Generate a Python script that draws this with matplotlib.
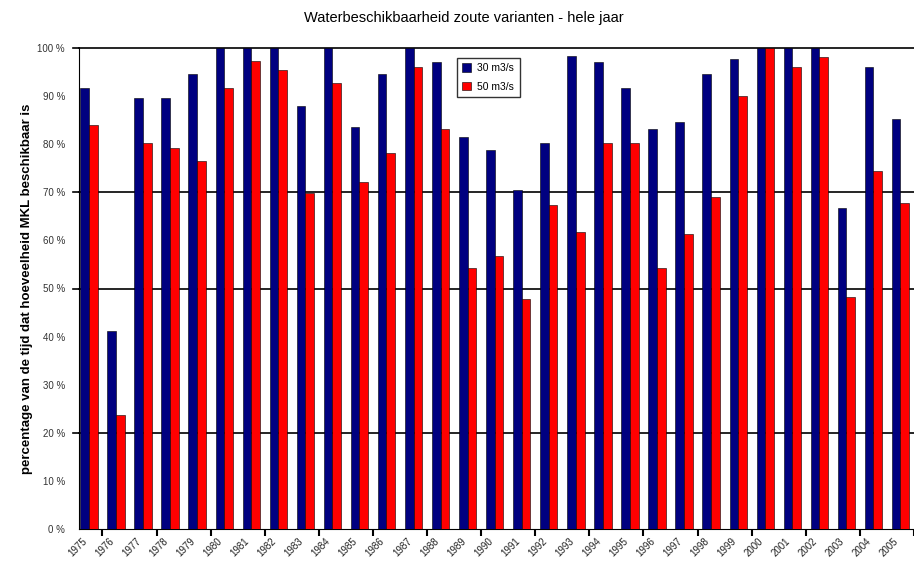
import matplotlib.pyplot as plt
import numpy as np

plt.rcParams['font.family'] = ['Liberation Sans', 'DejaVu Sans']

# Data
years = [str(y) for y in range(1975, 2006)]
blauw = [91.7, 41.2, 89.6, 89.6, 94.6, 100, 100, 100, 87.9, 100,
         83.6, 94.6, 100, 97.1, 81.5, 78.8, 70.5, 80.2, 98.3, 97.1,
         91.7, 83.2, 84.6, 94.6, 97.7, 100, 100, 100, 66.7, 96.0, 85.2]
rood = [84.0, 23.7, 80.2, 79.2, 76.5, 91.7, 97.3, 95.4, 69.9, 92.7,
        72.1, 78.2, 96.0, 83.2, 54.3, 56.8, 47.8, 67.4, 61.7, 80.2,
        80.2, 54.3, 61.3, 69.0, 90.0, 100, 96.0, 98.1, 48.2, 74.4, 67.8]
legend_labels = ['30 m3/s', '50 m3/s']
ytick_vals = list(range(0, 101, 10))
grid_vals = [20, 50, 70, 100]

fig = plt.figure(figsize=(9.14, 5.67), dpi=100)
ax = fig.add_axes([79 / 914, 38 / 567, 835 / 914, 481 / 567])

x = np.arange(len(years))
w = 0.32
ax.bar(x - w / 2, blauw, w, color='#000080', edgecolor='black', linewidth=0.4,
       label=legend_labels[0], zorder=3)
ax.bar(x + w / 2, rood, w, color='#FF0000', edgecolor='black', linewidth=0.4,
       label=legend_labels[1], zorder=3)

ax.set_xlim(-0.367, 30.24)
ax.set_ylim(0, 100)

for g in grid_vals:
    ax.axhline(g, color='black', linewidth=1.2, zorder=1, clip_on=False)
    ax.plot([-0.6, -0.367], [g, g], color='black', linewidth=1.2, clip_on=False)

ax.set_yticks(ytick_vals)
ax.set_yticklabels([f'{v} %' for v in ytick_vals], fontsize=7, color='#333333')
ax.tick_params(axis='y', length=0, pad=10)

ax.set_xticks(x)
ax.set_xticklabels(years, rotation=45, ha='right', fontsize=7, color='#222222')
ax.tick_params(axis='x', length=0, pad=5)
ax.set_xticks(np.arange(0.5, len(years), 2), minor=True)
ax.tick_params(axis='x', which='minor', length=5, width=1.5, color='black', direction='out')

for s in ['top', 'right']:
    ax.spines[s].set_visible(False)
ax.spines['left'].set_linewidth(0.8)
ax.spines['bottom'].set_linewidth(0.8)

ax.set_ylabel('percentage van de tijd dat hoeveelheid MKL beschikbaar is',
              fontsize=9.5, fontweight='bold', labelpad=3)
fig.text(0.508, 0.968, 'Waterbeschikbaarheid zoute varianten - hele jaar',
         ha='center', va='center', fontsize=10.5)

leg = ax.legend(loc='upper left', bbox_to_anchor=(0.446, 0.99), fontsize=7.5,
                frameon=True, fancybox=False, handlelength=0.9, handleheight=0.9,
                borderpad=0.5, labelspacing=0.8, handletextpad=0.6)
leg.get_frame().set_edgecolor('black')
leg.get_frame().set_linewidth(1.0)

fig.savefig('out.png', dpi=100)
